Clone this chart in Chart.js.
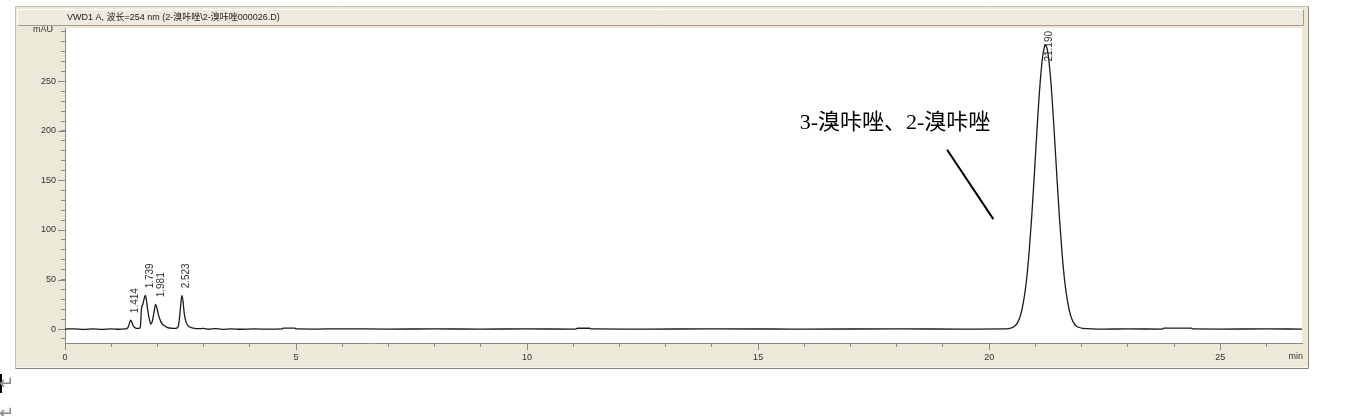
<!DOCTYPE html>
<html>
<head>
<meta charset="utf-8">
<script src="https://cdn.jsdelivr.net/npm/chart.js@4.4.1/dist/chart.umd.min.js"></script>
<style>
  html, body { margin: 0; padding: 0; background: #fff; }
  #chromatogram { display: block; }
</style>
</head>
<body>
<canvas id="chromatogram" width="1372" height="416"></canvas>
<script>
// Señal VWD1 (min, mAU)
const retentionTimes = [
    0.00, 0.20, 0.40, 0.60, 0.80, 1.00, 1.15, 1.30,
    1.36, 1.39, 1.42, 1.45, 1.48, 1.52, 1.57,
    1.62, 1.635, 1.65, 1.665, 1.685, 1.71, 1.735, 1.76, 1.79, 1.83, 1.86,
    1.89, 1.93, 1.96, 1.99, 2.03, 2.07, 2.11, 2.16, 2.22, 2.30,
    2.40, 2.45, 2.48, 2.505, 2.53, 2.555, 2.58, 2.62, 2.67, 2.75, 2.85,
    3.00, 3.10, 3.25, 3.40, 3.60, 3.80, 4.10, 4.40, 4.70, 4.72, 4.98, 5.00,
    5.40, 6.00, 7.00, 8.00, 9.00, 10.00, 11.05, 11.10, 11.35, 11.40,
    12.50, 14.00, 16.00, 18.00, 19.50, 20.30,
    20.42, 20.50, 20.56, 20.62, 20.68, 20.74, 20.80, 20.86, 20.92, 20.98,
    21.04, 21.10, 21.16, 21.19, 21.22, 21.25, 21.28, 21.34, 21.40, 21.46,
    21.52, 21.58, 21.64, 21.70, 21.76, 21.82, 21.88, 21.94, 22.02,
    22.50, 23.00, 23.75, 23.78, 24.38, 24.40, 25.00, 26.00, 26.77
];
const signalMAU = [
    0.0, 0.2, -0.3, 0.1, -0.4, 0.2, -0.2, 0.1,
    1.5, 5, 9, 6.5, 3, 1.2, 0.6,
    0.8, 4, 18, 23, 25, 30, 34, 30, 19, 9, 5,
    8, 18, 25, 21, 13, 8, 5, 3, 1.5, 0.8,
    0.6, 2.5, 12, 25, 34, 28, 16, 7, 3, 1.2, 0.4,
    0.6, -0.2, 0.5, -0.3, 0.2, -0.2, 0.1, -0.1, 0.1, 0.9, 0.9, 0.1,
    0, 0.2, 0, 0.1, 0, 0.1, 0, 0.8, 0.8, 0.1,
    0, 0.1, 0, 0.1, 0, 0.1,
    0.4, 1.4, 3.2, 7, 14, 27, 46, 75, 113, 158,
    205, 247, 276, 284, 287, 284, 276, 247, 205, 158,
    113, 75, 46, 27, 14, 7, 3.2, 1.8, 0.7,
    0, 0.1, 0, 0.9, 0.9, 0.1, 0, 0.1, 0
];

const peakTimes = [1.414, 1.739, 1.981, 2.523, 21.190];
const peakLabels = ['1.414', '1.739', '1.981', '2.523', '21.190'];

const xMinorTicks = [0, 1, 2, 3, 4, 5, 6, 7, 8, 9, 10, 11, 12, 13, 14, 15, 16, 17, 18, 19, 20, 21, 22, 23, 24, 25, 26];
const xMajorTicks = [0, 5, 10, 15, 20, 25];
const yMinorTicks = [-10, 0, 10, 20, 30, 40, 50, 60, 70, 80, 90, 100, 110, 120, 130, 140, 150,
    160, 170, 180, 190, 200, 210, 220, 230, 240, 250, 260, 270, 280, 290, 300];
const yMajorTicks = [0, 50, 100, 150, 200, 250];

const chartTitle = 'VWD1 A, 波长=254 nm (2-溴咔唑\\2-溴咔唑000026.D)';
const annotationText = '3-溴咔唑、2-溴咔唑';
// anotación en unidades de datos (min, mAU)
const annotationAt = [15.9, 208];
const pointerFrom = [19.09, 181];
const pointerTo = [20.09, 111];

const tickFont = { family: '"Liberation Sans", Arial, sans-serif', size: 9 };
const beige = '#ECE9D8';
const axisGrey = '#8a8a8a';

// --- panel de fondo estilo ChemStation ---
const panelPlugin = {
    id: 'panel',
    beforeDraw(chart) {
        const ctx = chart.ctx;
        const a = chart.chartArea;
        ctx.save();
        ctx.fillStyle = '#fff';
        ctx.fillRect(0, 0, chart.width, chart.height);
        ctx.fillStyle = beige;
        ctx.fillRect(16, 7, 1292, 361);
        // bordes del panel
        ctx.lineWidth = 1;
        ctx.strokeStyle = '#c4c1b4';
        ctx.beginPath();
        ctx.moveTo(15.5, 368.5); ctx.lineTo(15.5, 6.5); ctx.lineTo(1308.5, 6.5);
        ctx.stroke();
        ctx.strokeStyle = '#86847a';
        ctx.beginPath();
        ctx.moveTo(1308.5, 6.5); ctx.lineTo(1308.5, 368.5); ctx.lineTo(15.5, 368.5);
        ctx.stroke();
        ctx.strokeStyle = '#f8f7f0';
        ctx.beginPath();
        ctx.moveTo(16.5, 367.5); ctx.lineTo(1307.5, 367.5);
        ctx.stroke();
        // barra de título
        ctx.fillStyle = '#EEEBDE';
        ctx.fillRect(17, 9, 1287, 17);
        ctx.strokeStyle = '#ffffff';
        ctx.beginPath();
        ctx.moveTo(17.5, 25.5); ctx.lineTo(17.5, 9.5); ctx.lineTo(1303.5, 9.5);
        ctx.stroke();
        ctx.strokeStyle = '#a3a092';
        ctx.beginPath();
        ctx.moveTo(1303.5, 9.5); ctx.lineTo(1303.5, 25.5); ctx.lineTo(17.5, 25.5);
        ctx.stroke();
        // zona del gráfico
        ctx.fillStyle = '#fff';
        ctx.fillRect(a.left, a.top, a.right - a.left, a.bottom - a.top);
        ctx.restore();
    },
    afterDraw(chart) {
        const ctx = chart.ctx;
        const a = chart.chartArea;
        const xs = chart.scales.x;
        const ys = chart.scales.y;
        ctx.save();

        // ticks mayores más largos
        ctx.strokeStyle = axisGrey;
        ctx.lineWidth = 1;
        ctx.beginPath();
        xMajorTicks.forEach(v => {
            const px = Math.round(xs.getPixelForValue(v)) + 0.5;
            ctx.moveTo(px, a.bottom); ctx.lineTo(px, a.bottom + 7);
        });
        yMajorTicks.forEach(v => {
            const py = Math.round(ys.getPixelForValue(v)) + 0.5;
            ctx.moveTo(a.left, py); ctx.lineTo(a.left - 7, py);
        });
        ctx.stroke();

        // unidades
        ctx.fillStyle = '#333';
        ctx.font = '9px "Liberation Sans", Arial, sans-serif';
        ctx.textBaseline = 'middle';
        ctx.textAlign = 'right';
        ctx.fillText('mAU', 53, 30);
        ctx.fillText('min', 1303, 357);

        // título
        ctx.textAlign = 'left';
        ctx.fillStyle = '#222';
        ctx.font = '9px "Liberation Sans", "Noto Sans CJK SC", sans-serif';
        ctx.fillText(chartTitle, 67, 17.5);

        // etiquetas de picos (giradas)
        ctx.font = '10px "Liberation Sans", Arial, sans-serif';
        ctx.fillStyle = '#333';
        peakTimes.forEach((t, i) => {
            let top = -Infinity;
            retentionTimes.forEach((rt, j) => {
                if (Math.abs(rt - t) <= 0.06 && signalMAU[j] > top) top = signalMAU[j];
            });
            const px = xs.getPixelForValue(t) + 5;
            const w = ctx.measureText(peakLabels[i]).width;
            let bottom = ys.getPixelForValue(top) - 7;
            if (bottom - w < a.top + 3) bottom = a.top + 3 + w;
            ctx.save();
            ctx.translate(px, bottom);
            ctx.rotate(-Math.PI / 2);
            ctx.textAlign = 'left';
            ctx.textBaseline = 'middle';
            ctx.fillText(peakLabels[i], 0, 0);
            ctx.restore();
        });

        // anotación de compuestos
        ctx.fillStyle = '#000';
        ctx.font = '22px "Liberation Serif", "Noto Sans CJK SC", serif';
        ctx.textAlign = 'left';
        ctx.textBaseline = 'middle';
        ctx.fillText(annotationText, xs.getPixelForValue(annotationAt[0]), ys.getPixelForValue(annotationAt[1]));
        ctx.strokeStyle = '#000';
        ctx.lineWidth = 2;
        ctx.beginPath();
        ctx.moveTo(xs.getPixelForValue(pointerFrom[0]), ys.getPixelForValue(pointerFrom[1]));
        ctx.lineTo(xs.getPixelForValue(pointerTo[0]), ys.getPixelForValue(pointerTo[1]));
        ctx.stroke();

        // marcas de párrafo del documento
        ctx.fillStyle = '#000';
        ctx.fillRect(0, 374, 2, 19);
        ctx.fillStyle = '#888';
        ctx.font = '18px "DejaVu Sans", sans-serif';
        ctx.fillText('\u21B5', -1, 384);
        ctx.fillText('\u21B5', -1, 414);
        ctx.restore();
    }
};

const ctx = document.getElementById('chromatogram').getContext('2d');
new Chart(ctx, {
    type: 'line',
    data: {
        datasets: [{
            data: retentionTimes.map((t, i) => ({ x: t, y: signalMAU[i] })),
            borderColor: '#1a1a1a',
            borderWidth: 1.3,
            pointRadius: 0,
            fill: false,
            cubicInterpolationMode: 'monotone'
        }]
    },
    options: {
        responsive: false,
        animation: false,
        devicePixelRatio: 1,
        layout: { padding: { top: 28, right: 70, left: 0, bottom: 0 } },
        plugins: { legend: { display: false }, tooltip: { enabled: false } },
        scales: {
            x: {
                type: 'linear',
                min: 0,
                max: 26.77,
                afterFit(scale) { scale.height = 73; },
                afterBuildTicks(scale) { scale.ticks = xMinorTicks.map(v => ({ value: v })); },
                border: { display: true, color: axisGrey, width: 1 },
                grid: { drawOnChartArea: false, drawTicks: true, tickLength: 4, color: axisGrey },
                ticks: {
                    autoSkip: false,
                    maxRotation: 0,
                    padding: 5,
                    color: '#333',
                    font: tickFont,
                    callback: v => xMajorTicks.includes(v) ? String(v) : ''
                }
            },
            y: {
                type: 'linear',
                min: -14.1,
                max: 304,
                afterFit(scale) { scale.width = 65; },
                afterBuildTicks(scale) { scale.ticks = yMinorTicks.map(v => ({ value: v })); },
                border: { display: true, color: axisGrey, width: 1 },
                grid: { drawOnChartArea: false, drawTicks: true, tickLength: 4, color: axisGrey },
                ticks: {
                    autoSkip: false,
                    padding: 5,
                    color: '#333',
                    font: tickFont,
                    callback: v => yMajorTicks.includes(v) ? String(v) : ''
                }
            }
        }
    },
    plugins: [panelPlugin]
});
</script>
</body>
</html>
